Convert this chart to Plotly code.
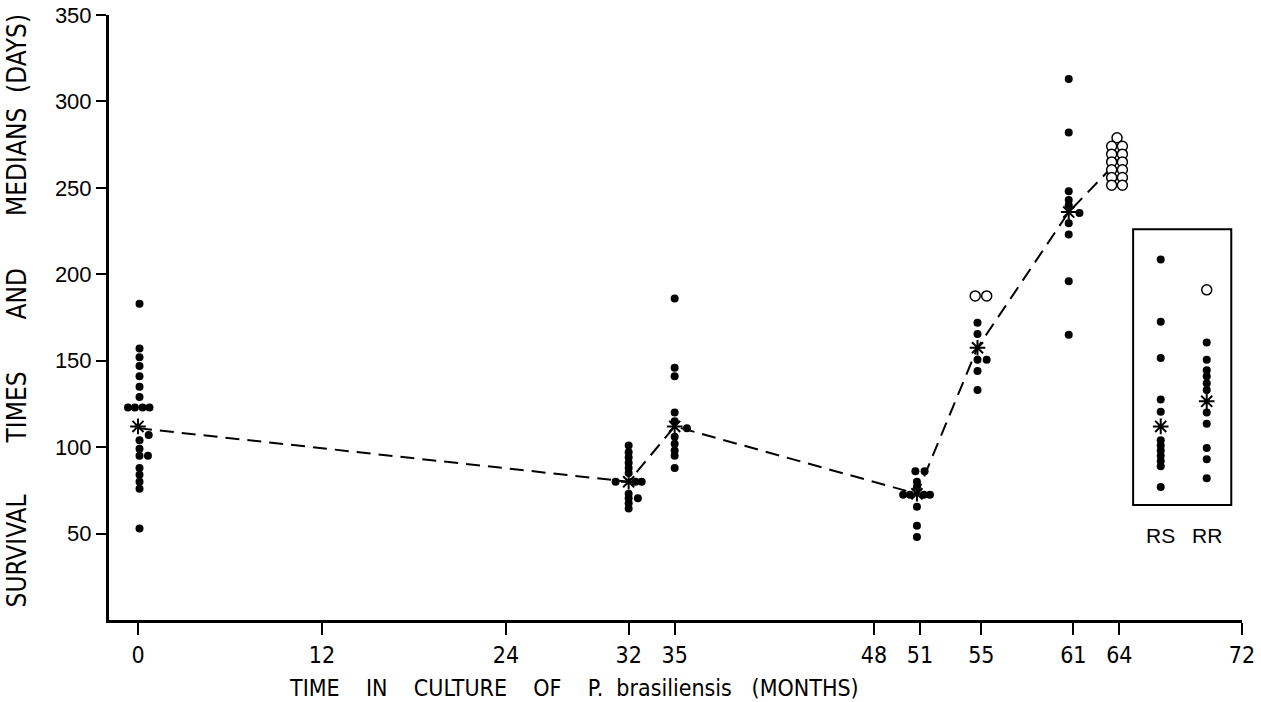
import plotly.graph_objects as go

# ---------------- data (months, days) ----------------
# each group: column position (months), survival values (days), horizontal offsets (months)
m0_col = 0.1
m0_vals = [183, 157, 152, 147, 141, 135, 129, 123, 123, 123, 123, 107, 104, 99, 95, 95, 88, 84, 80, 76, 53]
m0_off = [0, 0, 0, 0, 0, 0, 0, -0.75, -0.3, 0.2, 0.65, 0.6, 0, 0, 0, 0.55, 0, 0, 0, 0, 0]

m32_col = 32.0
m32_vals = [101, 97, 94, 91, 88, 85, 80, 80, 80, 73, 70.5, 70.5, 67.5, 64.5]
m32_off = [0, 0, 0, 0, 0, 0, -0.85, 0.45, 0.85, 0, 0, 0.6, 0, 0]

m35_col = 35.0
m35_vals = [186, 146, 141, 120, 115, 111, 106, 102, 98, 95, 88]
m35_off = [0, 0, 0, 0, 0, 0.8, 0, 0, 0, 0, 0]

m51_col = 50.8
m51_vals = [86, 86, 80, 77, 72.5, 72.5, 72.5, 72.5, 65.5, 54.5, 48]
m51_off = [-0.1, 0.5, 0, 0, -0.9, -0.45, 0.45, 0.85, 0, 0, 0]

m55_col = 54.75
m55_vals = [172, 165.5, 150.5, 150.5, 144, 133]
m55_off = [0, 0, 0, 0.6, 0, 0]
m55_open_vals = [187.5, 187.5]
m55_open_off = [-0.15, 0.6]

m61_col = 60.7
m61_vals = [313, 282, 248, 243, 240, 235.5, 229.5, 223, 196, 165]
m61_off = [0, 0, 0, 0, 0, 0.7, 0, 0, 0, 0]

m64_col = 63.85
m64_open_vals = [279, 274, 274, 269.5, 269.5, 265, 265, 260.5, 260.5, 256, 256, 251.5, 251.5]
m64_open_off = [0, -0.35, 0.35, -0.35, 0.35, -0.35, 0.35, -0.35, 0.35, -0.35, 0.35, -0.35, 0.35]

# medians joined by the dashed line
median_months = [0.0, 32.0, 35.0, 50.8, 54.75, 60.7, 63.85]
median_days = [111, 80, 112, 73, 157.5, 236, 265]
star_months = [0.0, 32.0, 35.0, 50.8, 54.75, 60.7]
star_days = [112, 80, 112, 73, 157.5, 236]

# inset groups RS / RR
rs_col = 66.7
rs_vals = [208.5, 172.5, 151.5, 127.5, 120.5, 104, 101, 98, 95, 92, 89, 77]
rs_median = 112
rr_col = 69.7
rr_vals = [160.5, 150.5, 144.5, 141, 137, 133, 120, 113.5, 99.5, 93, 82]
rr_open_vals = [191]
rr_median = 126.5
inset_labels = ["RS", "RR"]

x_ticks = [0, 12, 24, 32, 35, 48, 51, 55, 61, 64, 72]
y_ticks = [50, 100, 150, 200, 250, 300, 350]

# ---------------- build ----------------
def place(col, offs):
    return [col + o for o in offs]

filled_x = (place(m0_col, m0_off) + place(m32_col, m32_off) + place(m35_col, m35_off)
            + place(m51_col, m51_off) + place(m55_col, m55_off) + place(m61_col, m61_off)
            + [rs_col] * len(rs_vals) + [rr_col] * len(rr_vals))
filled_y = m0_vals + m32_vals + m35_vals + m51_vals + m55_vals + m61_vals + rs_vals + rr_vals

open_x = place(m55_col, m55_open_off) + place(m64_col, m64_open_off) + [rr_col] * len(rr_open_vals)
open_y = m55_open_vals + m64_open_vals + rr_open_vals

NARROW = "DejaVu Sans Condensed, Liberation Sans Narrow, Arial Narrow, Liberation Sans, sans-serif"
REG = "Liberation Sans, Arial, sans-serif"

fig = go.Figure()
fig.add_trace(go.Scatter(x=median_months, y=median_days, mode="lines",
                         line=dict(color="black", width=2, dash="14px,8px"),
                         hoverinfo="skip"))
fig.add_trace(go.Scatter(x=filled_x, y=filled_y, mode="markers",
                         marker=dict(symbol="circle", size=8, color="black", line=dict(width=0))))
fig.add_trace(go.Scatter(x=open_x, y=open_y, mode="markers",
                         marker=dict(symbol="circle", size=10, color="white",
                                     line=dict(color="black", width=1.5))))
fig.add_trace(go.Scatter(x=star_months + [rs_col, rr_col], y=star_days + [rs_median, rr_median],
                         mode="markers",
                         marker=dict(symbol="asterisk-open", size=13, color="black",
                                     line=dict(color="black", width=2))))

fig.add_shape(type="rect", xref="x", yref="y", x0=64.9, x1=71.3, y0=66.5, y1=226,
              line=dict(color="black", width=2), fillcolor="rgba(0,0,0,0)", layer="below")

for lab, col in zip(inset_labels, [rs_col, rr_col]):
    fig.add_annotation(x=col, y=49, xref="x", yref="y", text=lab, showarrow=False,
                       font=dict(family=REG, size=21, color="black"),
                       xanchor="center", yanchor="middle")

gap = "\u00a0" * 6 + " "
fig.add_annotation(x=-0.081, y=0.512, xref="paper", yref="paper", textangle=-90,
                   text="SURVIVAL" + gap + "TIMES" + gap + "AND" + gap + "MEDIANS\u00a0 (DAYS)",
                   showarrow=False, xanchor="center", yanchor="middle",
                   font=dict(family=NARROW, size=26, color="black"))
fig.add_annotation(x=0.41, y=-0.112, xref="paper", yref="paper",
                   text="TIME\u00a0\u00a0\u00a0 IN\u00a0\u00a0\u00a0 CULTURE\u00a0\u00a0\u00a0 OF\u00a0\u00a0\u00a0 P.\u00a0 brasiliensis\u00a0\u00a0 (MONTHS)",
                   showarrow=False, xanchor="center", yanchor="middle",
                   font=dict(family=NARROW, size=23, color="black"))

fig.update_layout(
    width=1261, height=702,
    margin=dict(l=109, r=19, t=15, b=82, autoexpand=False),
    paper_bgcolor="white", plot_bgcolor="white",
    showlegend=False,
    xaxis=dict(range=[-1.89, 72], tickmode="array", tickvals=x_ticks,
               ticktext=[str(t) for t in x_ticks], automargin=False,
               showgrid=False, zeroline=False, showline=True, linecolor="black", linewidth=3,
               ticks="outside", ticklen=12, tickwidth=1.5, tickcolor="black",
               tickfont=dict(family=NARROW, size=23, color="black")),
    yaxis=dict(range=[0, 350], tickmode="array", tickvals=y_ticks, automargin=False,
               showgrid=False, zeroline=False, showline=True, linecolor="black", linewidth=3,
               ticks="outside", ticklen=10, tickwidth=1.5, tickcolor="black",
               tickfont=dict(family=REG, size=22, color="black")),
)

fig.write_html("out.html", config={"displayModeBar": False},
               post_script="document.body.style.margin='0';")
